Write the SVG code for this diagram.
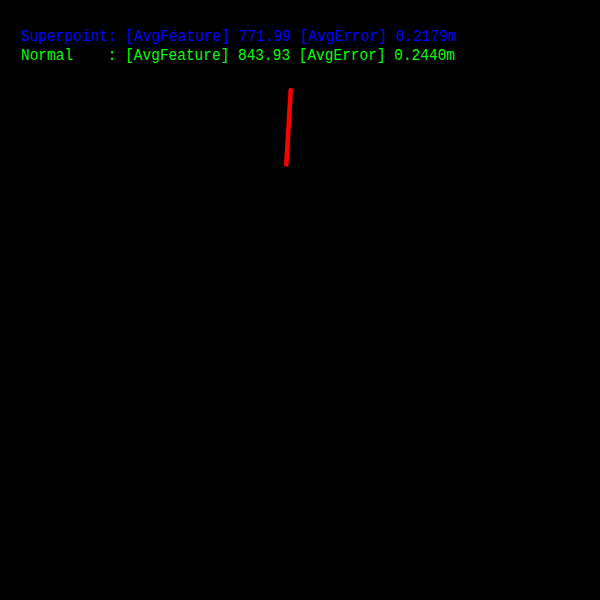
<svg xmlns="http://www.w3.org/2000/svg" width="600" height="600" viewBox="0 0 600 600">
<style>
.t{font-family:"Liberation Mono","DejaVu Sans Mono",monospace;font-size:16px;white-space:pre}
</style>
<rect x="0" y="0" width="600" height="600" fill="#000"/>
<g id="legend">
<text id="superpoint" class="t" x="21" y="41" fill="#0000ff" textLength="436" lengthAdjust="spacingAndGlyphs" xml:space="preserve">Superpoint: [AvgFeature] 771.99 [AvgError] 0.2179m</text>
<text id="normal" class="t" x="21" y="60" fill="#00ff00" textLength="434" lengthAdjust="spacingAndGlyphs" xml:space="preserve">Normal    : [AvgFeature] 843.93 [AvgError] 0.2440m</text>
</g>
<g id="connectors">
<line x1="290.7" y1="90" x2="286.3" y2="164.5" stroke="#ff0000" stroke-width="4.5" stroke-linecap="round"/>
</g>
</svg>
